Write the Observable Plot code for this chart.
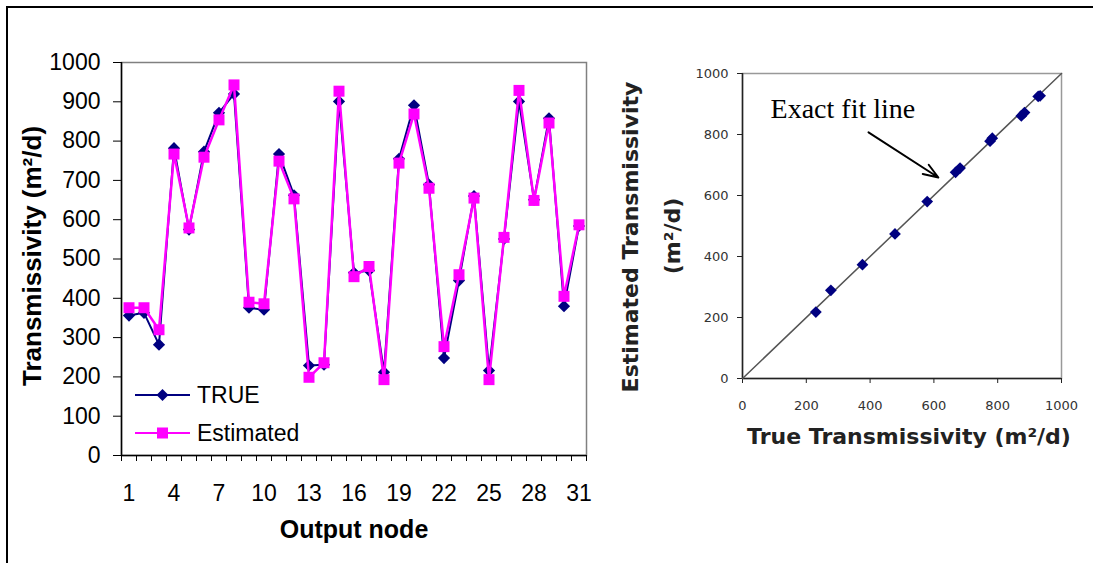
<!DOCTYPE html>
<html><head><meta charset="utf-8">
<script src="https://cdn.jsdelivr.net/npm/d3@7"></script>
<script src="https://cdn.jsdelivr.net/npm/@observablehq/plot@0.6"></script>
<style>
body{margin:0;background:#fff;}
#wrap{position:relative;width:1093px;height:563px;overflow:hidden;background:#fff;}
#left,#right{position:absolute;top:0;}
#left{left:0;} #right{left:600px;}
#border{position:absolute;left:6px;top:6px;width:1200px;height:700px;border-top:2px solid #000;border-left:2px solid #000;pointer-events:none;}
#legend{position:absolute;left:135px;top:376px;font-family:Arial,"Liberation Sans",sans-serif;font-size:23px;color:#000;}
.row{display:flex;align-items:center;height:38px;}
.row span{margin-left:7px;}
</style></head><body>
<div id="wrap"><div id="left"></div><div id="right"></div><div id="legend"></div><div id="border"></div></div>
<script>
// ---- Left chart data ----
const nodes = [1,2,3,4,5,6,7,8,9,10,11,12,13,14,15,16,17,18,19,20,21,22,23,24,25,26,27,28,29,30,31];
const trueVals = [356,363,282,782,575,773,872,920,376,371,767,662,229,231,901,465,471,212,755,891,689,248,445,660,216,551,901,651,858,380,584];
const estVals  = [376,376,320,767,579,759,854,943,390,386,749,653,199,236,927,455,481,193,744,869,680,277,460,655,193,555,929,649,846,405,587];
const yTicks = [0,100,200,300,400,500,600,700,800,900,1000];
const xLabelTicks = [1,4,7,10,13,16,19,22,25,28,31];
const xTickMarks = [0.5,1.5,2.5,3.5,4.5,5.5,6.5,7.5,8.5,9.5,10.5,11.5,12.5,13.5,14.5,15.5,16.5,17.5,18.5,19.5,20.5,21.5,22.5,23.5,24.5,25.5,26.5,27.5,28.5,29.5,30.5,31.5];
const seriesNames = ["TRUE","Estimated"];
const seriesColors = ["#000080","#FF00FF"];

// ---- Right chart data ----
const scatterTrue = [230,277,376,478,579,668,682,776,783,874,884,927,933];
const scatterEst  = [218,289,373,474,580,676,690,778,788,861,872,925,927];
const scatterTicks = [0,200,400,600,800,1000];
const fitLineX = [0,1000];
const fitLineY = [0,1000];
const annotText = ["Exact fit line"];
const annotX = [88];
const annotY = [884];
const arrowFrom = [395,807];
const arrowTo = [614,659];

const lineData = nodes.map((n,i)=>({node:n, t:trueVals[i], e:estVals[i]}));
const scatter = scatterTrue.map((t,i)=>({t, e:scatterEst[i]}));
const fit = fitLineX.map((x,i)=>({x, y:fitLineY[i]}));
const annot = annotText.map((s,i)=>({s, x:annotX[i], y:annotY[i]}));
const plain = d => String(d);

const arial = "Arial, 'Liberation Sans', sans-serif";
const left = Plot.plot({
  width:600, height:563,
  marginLeft:121, marginRight:14, marginTop:62, marginBottom:108,
  style:{background:"transparent", fontFamily:arial, color:"#000"},
  x:{domain:[0.5,31.5]}, y:{domain:[0,1000]},
  marks:[
    Plot.frame({stroke:"#808080", strokeWidth:1.5}),
    Plot.axisY({ticks:yTicks, tickSize:8, tickPadding:13, fontSize:23, label:null, tickFormat:plain}),
    Plot.axisX({ticks:xTickMarks, tickSize:6, tickFormat:()=>"", label:null}),
    Plot.axisX({ticks:xLabelTicks, tickSize:0, tickPadding:29, fontSize:23, label:null, tickFormat:plain}),
    Plot.ruleX([0.5], {stroke:"#000", strokeWidth:1.5}),
    Plot.ruleY([0], {stroke:"#000", strokeWidth:1.5}),
    Plot.line(lineData, {x:"node", y:"t", stroke:seriesColors[0], strokeWidth:2}),
    Plot.dot(lineData, {x:"node", y:"t", symbol:"diamond2", r:5.5, fill:seriesColors[0], stroke:null}),
    Plot.line(lineData, {x:"node", y:"e", stroke:seriesColors[1], strokeWidth:2.5}),
    Plot.dot(lineData, {x:"node", y:"e", symbol:"square", r:6.2, fill:seriesColors[1], stroke:null}),
    Plot.text(["Transmissivity (m²/d)"], {text:d=>d, frameAnchor:"left", textAnchor:"middle", dx:-89, dy:-3, rotate:-90, fontSize:26, fontWeight:"bold"}),
    Plot.text(["Output node"], {text:d=>d, frameAnchor:"bottom", textAnchor:"middle", dy:82, fontSize:25, fontWeight:"bold"})
  ]
});
document.getElementById("left").appendChild(left);

const dejavu = "'DejaVu Sans', Verdana, sans-serif";
const right = Plot.plot({
  width:493, height:563,
  marginLeft:142, marginRight:32, marginTop:73, marginBottom:185,
  style:{background:"transparent", fontFamily:dejavu, color:"#222"},
  x:{domain:[0,1000]}, y:{domain:[0,1000]},
  marks:[
    Plot.frame({stroke:"#999", strokeWidth:1.5}),
    Plot.axisX({ticks:scatterTicks, tickSize:5, tickPadding:17, fontSize:13, label:null, fill:"#333", tickFormat:plain}),
    Plot.axisY({ticks:scatterTicks, tickSize:5, tickPadding:9, fontSize:13, label:null, fill:"#333", tickFormat:plain}),
    Plot.ruleX([0], {stroke:"#222", strokeWidth:1.5}),
    Plot.ruleY([0], {stroke:"#222", strokeWidth:1.5}),
    Plot.line(fit, {x:"x", y:"y", stroke:"#555", strokeWidth:1.5}),
    Plot.dot(scatter, {x:"t", y:"e", symbol:"diamond2", r:5.3, fill:"#000080", stroke:null}),
    Plot.text(annot, {x:"x", y:"y", text:"s", textAnchor:"start", lineAnchor:"middle", fontFamily:"'Liberation Serif', 'Times New Roman', serif", fontSize:28, fill:"#000"}),
    Plot.arrow([{x1:arrowFrom[0], y1:arrowFrom[1], x2:arrowTo[0], y2:arrowTo[1]}], {x1:"x1", y1:"y1", x2:"x2", y2:"y2", stroke:"#000", strokeWidth:2, headLength:12, headAngle:40}),
    Plot.text(["True Transmissivity (m²/d)"], {text:d=>d, frameAnchor:"bottom", textAnchor:"middle", dx:7, dy:65, fontSize:22, fontWeight:"bold", fill:"#222"}),
    Plot.text(["Estimated Transmissivity"], {text:d=>d, frameAnchor:"left", textAnchor:"middle", dx:-112, dy:11, rotate:-90, fontSize:22, fontWeight:"bold", fill:"#222"}),
    Plot.text(["(m²/d)"], {text:d=>d, frameAnchor:"left", textAnchor:"middle", dx:-70, dy:10, rotate:-90, fontSize:22, fontWeight:"bold", fill:"#222"})
  ]
});
document.getElementById("right").appendChild(right);

// ---- Legend (HTML) ----
const legend = document.getElementById("legend");
seriesNames.forEach((name,i)=>{
  const row = document.createElement("div");
  row.className = "row";
  const sym = i===0
    ? `<polygon points="27.5,13 33.5,19 27.5,25 21.5,19" fill="${seriesColors[i]}"/>`
    : `<rect x="22" y="13.5" width="11" height="11" fill="${seriesColors[i]}"/>`;
  row.innerHTML = `<svg width="55" height="38"><line x1="0" x2="55" y1="19" y2="19" stroke="${seriesColors[i]}" stroke-width="2"/>${sym}</svg><span>${name}</span>`;
  legend.appendChild(row);
});
</script>
</body></html>
